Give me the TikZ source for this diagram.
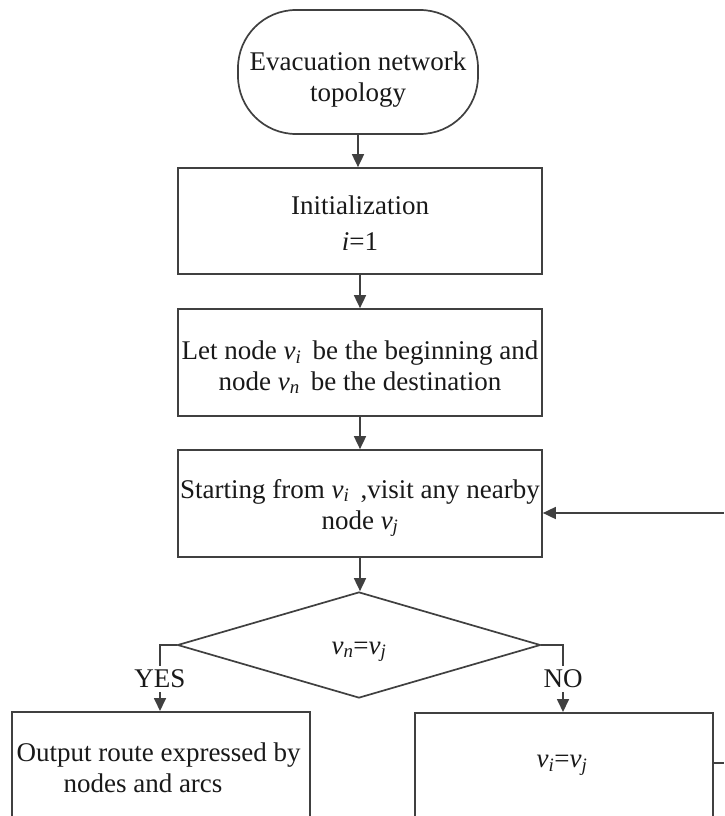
\documentclass[tikz,border=0pt]{standalone}
\usepackage{fontspec}
\setmainfont{Liberation Serif}
\usetikzlibrary{arrows.meta,shapes.geometric,calc}
\newcommand{\vsub}[1]{\textit{v}\textsubscript{\textit{#1}}}
\begin{document}
\begin{tikzpicture}[x=1pt,y=-1pt,
  txt/.style={font=\fontsize{27}{31}\selectfont, text=black!90, align=center},
  line/.style={draw=black!75, line width=1.7pt},
  arr/.style={line, -{Triangle[length=13pt,width=12pt]}},
  box/.style={txt, line, rectangle, inner sep=0pt, fill=white},
  term/.style={box, rounded corners=58pt, minimum width=240pt, minimum height=124pt},
  decision/.style={txt, line, diamond, inner sep=0pt, minimum width=363pt, minimum height=106pt, aspect=3.42},
  lab/.style={txt, inner sep=4pt, fill=white},
]
\useasboundingbox (0,0) rectangle (724,816);
\clip (0,0) rectangle (724,816);
\fill[white] (0,0) rectangle (724,816);

\node[term] (t) at (358,72) {\rule{0pt}{33pt}Evacuation network\\topology};
\node[box, minimum width=364pt, minimum height=106pt] (b2) at (360,221) {\rule{0pt}{23pt}Initialization\\[5pt]\textit{i}=1};
\node[box, minimum width=364pt, minimum height=107pt] (b3) at (360,362.5) {\rule{0pt}{28pt}Let node \vsub{i}\, be the beginning and\\node \vsub{n}\, be the destination};
\node[box, minimum width=364pt, minimum height=107pt] (b4) at (360,503.5) {\rule{0pt}{28pt}Starting from \vsub{i}\, ,visit any nearby\\node \vsub{j}};
\node[decision] (d) at (359,645) {\rule{0pt}{26pt}\vsub{n}=\vsub{j}};

\node[box, minimum width=298pt, minimum height=130pt, anchor=north] (b5) at (161,711) {};
\node[txt, align=left, anchor=west] (t5) at (13,768) {Output route expressed by\\\hspace*{47pt}nodes and arcs};
\node[box, minimum width=298pt, minimum height=130pt, anchor=north] (b6) at (564,712) {};
\node[txt] (t6) at (562,765) {\vsub{i}=\vsub{j}};

\node[lab] (yes) at (160,679) {YES};
\node[lab] (no) at (563,679) {NO};

\draw[arr] (t.south) -- (t.south |- b2.north);
\draw[arr] (b2.south) -- (b3.north);
\draw[arr] (b3.south) -- (b4.north);
\draw[arr] (b4.south) -- (b4.south |- d.north);
\draw[line] (d.west) -| (yes.north);
\draw[arr] (yes.south) -- (yes.south |- b5.north);
\draw[line] (d.east) -| (no.north);
\draw[arr] (no.south) -- (no.south |- b6.north);

\coordinate (r1) at (724,513);
\coordinate (r2) at (724,763);
\draw[arr] (r1) -- (r1 -| b4.east);
\draw[line] (b6.east |- r2) -- (r2);
\end{tikzpicture}
\end{document}
